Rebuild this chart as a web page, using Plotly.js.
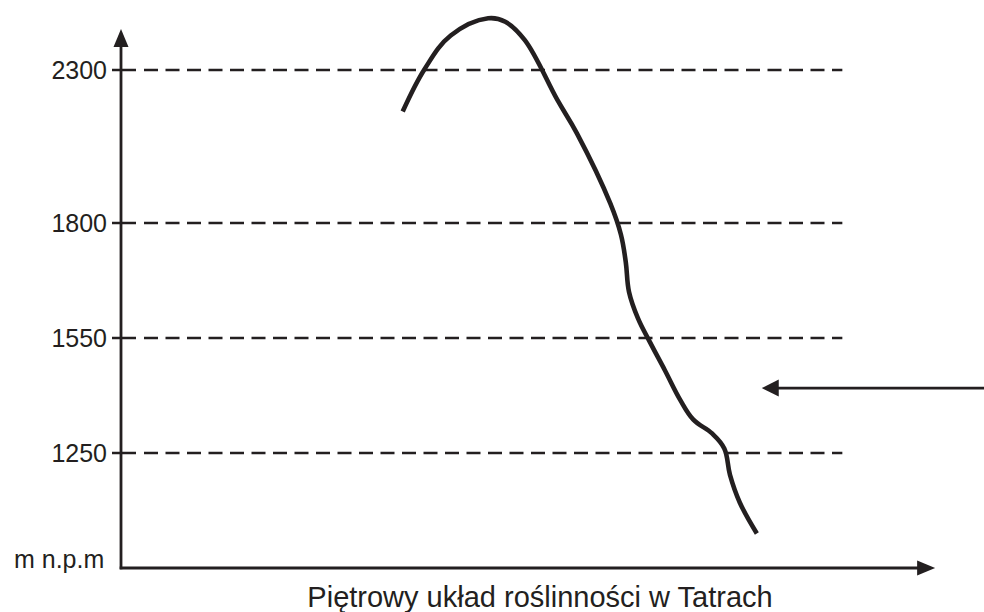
<!DOCTYPE html>
<html>
<head>
<meta charset="utf-8">
<script src="https://cdn.plot.ly/plotly-3.0.1.min.js"></script>
<style>html,body{margin:0;padding:0;background:#fff;}#chart{width:984px;height:612px;}</style>
</head>
<body>
<div id="chart"></div>
<script>
// Horizontal position along the profile (arbitrary units, 0-100 = x axis length)
const profileX = [34.6, 37.3, 40.5, 45.1, 47.2, 49.6, 53.6, 56.0, 60.1, 61.4, 62.0, 62.4, 63.5, 65.0, 66.8, 68.7, 70.3, 72.6, 74.1, 74.8, 76.0, 78.1];
// Height on the diagram's level scale (0 = base, 1 = 1250, 2 = 1550, 3 = 1800, 4.33 = 2300)
const profileY = [3.97, 4.34, 4.63, 4.78, 4.75, 4.59, 4.07, 3.78, 3.17, 2.90, 2.66, 2.40, 2.17, 1.96, 1.72, 1.46, 1.29, 1.17, 1.04, 0.81, 0.57, 0.30];

const levelPos = [1, 2, 3, 4.33];
const levelLabels = ['1250', '1550', '1800', '2300'];
const baseLabel = 'm n.p.m';
const chartTitle = 'Piętrowy układ roślinności w Tatrach';
const pointerLevel = 1.565;
const pointerStartX = 78.7;

const INK = '#231f20';
const W = 984, H = 612;
const X0PX = 121, Y0PX = 568, UX = 8.1415, UY = 115;   // axis origin in px and px per unit
const XR = [-X0PX / UX, (W - X0PX) / UX];
const YR = [-(H - Y0PX) / UY, Y0PX / UY];
const pxX = 1 / UX, pxY = 1 / UY;
const axisX = 100, axisYTop = 4.687, dashStart = -9 / UX, dashEnd = 88.6;

let dashPattern = '24px,8px';
for (let i = 0; i < 40; i++) dashPattern += ',14px,7.5px';

const traces = [];
levelPos.forEach(function (v) {
  traces.push({
    x: [dashStart, dashEnd], y: [v, v], mode: 'lines', hoverinfo: 'skip',
    line: {color: INK, width: 2.6, dash: dashPattern}
  });
});
traces.push({
  x: profileX, y: profileY, mode: 'lines', hoverinfo: 'skip',
  line: {color: INK, width: 4.6, shape: 'spline', smoothing: 1.1}
});

function tri(tx, ty, dir, len, half) {
  const L = len, h = half;
  if (dir === 'up') return `M ${tx} ${ty} L ${tx - h * pxX} ${ty - L * pxY} L ${tx + h * pxX} ${ty - L * pxY} Z`;
  if (dir === 'right') return `M ${tx} ${ty} L ${tx - L * pxX} ${ty + h * pxY} L ${tx - L * pxX} ${ty - h * pxY} Z`;
  return `M ${tx} ${ty} L ${tx + L * pxX} ${ty + h * pxY} L ${tx + L * pxX} ${ty - h * pxY} Z`;
}

const shapes = [
  {type: 'line', xref: 'x', yref: 'y', x0: 0, y0: -1.3 * pxY, x1: 0, y1: axisYTop - 16 * pxY, line: {color: INK, width: 2.8}},
  {type: 'line', xref: 'x', yref: 'y', x0: -1.3 * pxX, y0: 0, x1: axisX - 16 * pxX, y1: 0, line: {color: INK, width: 2.8}},
  {type: 'path', xref: 'x', yref: 'y', path: tri(0, axisYTop, 'up', 18, 7.5), fillcolor: INK, line: {width: 0}},
  {type: 'path', xref: 'x', yref: 'y', path: tri(axisX, 0, 'right', 18, 7.5), fillcolor: INK, line: {width: 0}},
  {type: 'line', xref: 'x', yref: 'y', x0: pointerStartX + 14 * pxX, y0: pointerLevel, x1: XR[1], y1: pointerLevel, line: {color: INK, width: 2.8}},
  {type: 'path', xref: 'x', yref: 'y', path: tri(pointerStartX, pointerLevel, 'left', 17, 8.5), fillcolor: INK, line: {width: 0}}
];

const layout = {
  width: W, height: H,
  margin: {l: 0, r: 0, t: 0, b: 0, pad: 0},
  paper_bgcolor: '#ffffff', plot_bgcolor: '#ffffff',
  showlegend: false,
  font: {family: '"Liberation Sans", Arial, sans-serif', color: INK},
  title: {text: chartTitle, font: {size: 29, color: INK}, x: 540 / W, xref: 'container', xanchor: 'center', y: 1 - 597 / H, yref: 'container', yanchor: 'middle'},
  xaxis: {range: XR, showgrid: false, zeroline: false, showline: false, showticklabels: false, ticks: '', fixedrange: true},
  yaxis: {range: YR, anchor: 'free', position: X0PX / W, showgrid: false, zeroline: false, showline: false,
    tickmode: 'array', tickvals: levelPos, ticktext: levelLabels,
    ticks: 'outside', ticklen: 9, tickwidth: 2.6, tickcolor: INK,
    tickfont: {size: 25, color: INK}, fixedrange: true},
  shapes: shapes,
  annotations: [{text: baseLabel, xref: 'x', yref: 'y', x: -15 / UX, y: 9 * pxY, xanchor: 'right', yanchor: 'middle', showarrow: false, font: {size: 25, color: INK}}]
};

Plotly.newPlot('chart', traces, layout, {displayModeBar: false, staticPlot: true});
</script>
</body>
</html>
